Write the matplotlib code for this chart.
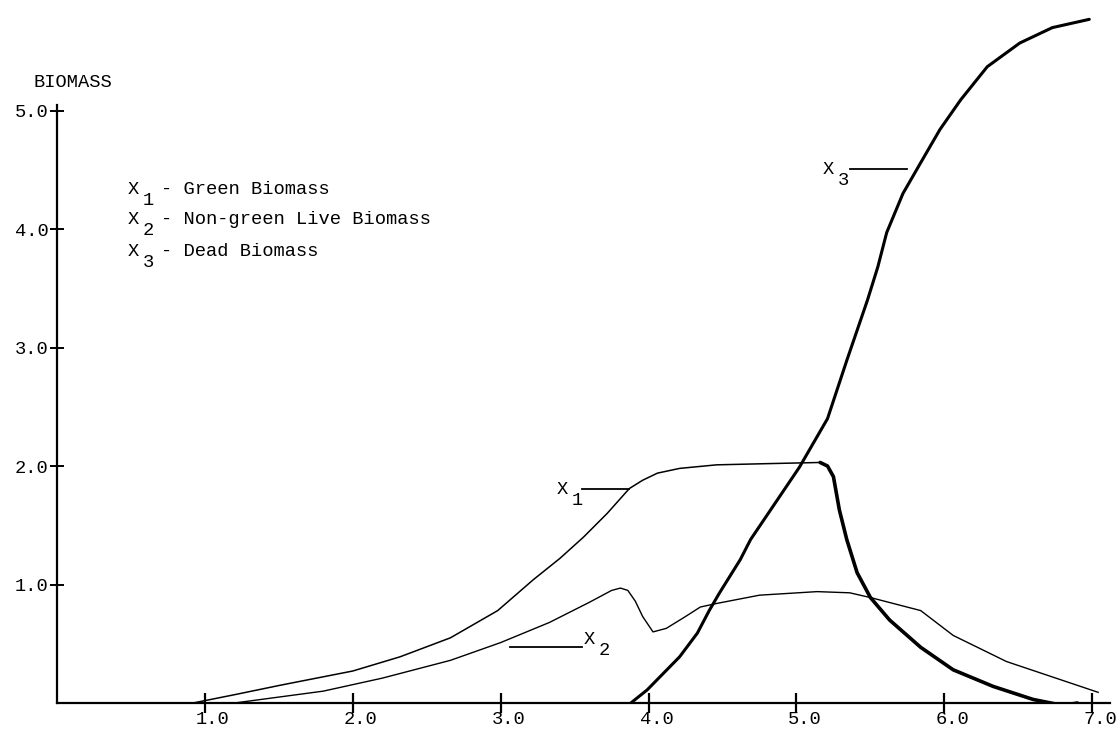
import numpy as np
import matplotlib.pyplot as plt
import matplotlib.transforms as mtransforms

#--------------------DATA------------------------#
# X1 - green biomass
x1_t = [0.0, 0.92, 1.20, 1.51, 2.00, 2.32, 2.66, 2.98, 3.22, 3.40, 3.56, 3.72, 3.87, 3.96,
        4.06, 4.21, 4.46, 4.80, 5.16, 5.21, 5.25, 5.29, 5.34, 5.41, 5.50, 5.63, 5.84,
        6.06, 6.33, 6.60, 6.80, 6.90]
x1_b = [0.0, 0.0, 0.07, 0.15, 0.27, 0.39, 0.55, 0.78, 1.04, 1.22, 1.40, 1.60, 1.81, 1.88,
        1.94, 1.98, 2.01, 2.02, 2.03, 2.00, 1.91, 1.63, 1.38, 1.10, 0.89, 0.70, 0.47,
        0.28, 0.14, 0.03, -0.02, 0.0]

# X2 - non-green live biomass
x2_t = [0.0, 1.20, 1.50, 1.80, 2.20, 2.66, 3.00, 3.33, 3.60, 3.75, 3.81, 3.86, 3.91, 3.96,
        4.03, 4.12, 4.25, 4.35, 4.46, 4.75, 5.14, 5.36, 5.50, 5.84, 6.06, 6.42, 6.73,
        7.04]
x2_b = [0.0, 0.0, 0.05, 0.10, 0.21, 0.36, 0.51, 0.68, 0.85, 0.95, 0.97, 0.95, 0.86, 0.73,
        0.60, 0.63, 0.73, 0.81, 0.84, 0.91, 0.94, 0.93, 0.89, 0.78, 0.57, 0.35, 0.22,
        0.09]

# X3 - dead biomass
x3_t = [3.88, 3.99, 4.10, 4.21, 4.33, 4.41, 4.48, 4.62, 4.69, 5.02, 5.21, 5.34, 5.48,
        5.55, 5.61, 5.72, 5.84, 5.97, 6.11, 6.29, 6.51, 6.73, 6.98]
x3_b = [0.0, 0.11, 0.25, 0.39, 0.59, 0.78, 0.93, 1.21, 1.38, 1.99, 2.40, 2.89, 3.40,
        3.68, 3.97, 4.30, 4.56, 4.84, 5.09, 5.37, 5.57, 5.70, 5.77]

x_ticks = [1, 2, 3, 4, 5, 6, 7]
y_ticks = [1, 2, 3, 4, 5]

legend_rows = [("1", "- Green Biomass"),
               ("2", "- Non-green Live Biomass"),
               ("3", "- Dead Biomass")]

FONT = "Liberation Mono"
FS = 13.5

#--------------------FUNCTIONS------------------------#
def x_label(ax, x, y, sub):
    # typewriter style "X" with half-line-down subscript
    ax.text(x, y, "X", family=FONT, fontsize=FS, ha="left", va="center")
    tr = mtransforms.offset_copy(ax.transData, fig=ax.figure, x=15, y=-11, units="dots")
    ax.text(x, y, sub, family=FONT, fontsize=FS, ha="left", va="center", transform=tr)

#---------------------------------PLOTTING----------------------#
fig = plt.figure(figsize=(11.2, 7.3), dpi=100)
ax = fig.add_axes([57 / 1120, 27 / 730, 1053 / 1120, 705 / 730])

t1 = np.array(x1_t)
b1 = np.array(x1_b)
ax.plot(t1, b1, color="black", lw=1.1, solid_joinstyle="round")
drop = t1 >= 5.16
ax.plot(t1[drop], b1[drop], color="black", lw=2.6, solid_capstyle="round",
        solid_joinstyle="round")
ax.plot(x2_t, x2_b, color="black", lw=1.0, solid_joinstyle="round")
ax.plot(x3_t, x3_b, color="black", lw=2.2, solid_capstyle="round", solid_joinstyle="round")

# pointer lines with labels
ax.plot([3.55, 3.87], [1.81, 1.81], color="black", lw=1.3)
x_label(ax, 3.38, 1.80, "1")
ax.plot([3.06, 3.55], [0.47, 0.47], color="black", lw=1.3)
x_label(ax, 3.56, 0.54, "2")
ax.plot([5.36, 5.75], [4.51, 4.51], color="black", lw=1.3)
x_label(ax, 5.18, 4.50, "3")

# key in the upper left
rows_y = [4.33, 4.08, 3.81]
for (s, txt), ry in zip(legend_rows, rows_y):
    x_label(ax, 0.48, ry, s)
    ax.text(0.70, ry, txt, family=FONT, fontsize=FS, ha="left", va="center")

ax.text(-0.162, 5.24, "BIOMASS", family=FONT, fontsize=FS, ha="left", va="center",
        clip_on=False)

ax.set_xlim(0, 7.12)
ax.set_ylim(0, 5.95)
for s in ["top", "right"]:
    ax.spines[s].set_visible(False)
ax.spines["left"].set_bounds(0, 5.05)
ax.spines["left"].set_linewidth(1.6)
ax.spines["bottom"].set_linewidth(1.6)

ax.set_xticks(x_ticks)
ax.set_xticklabels([f"{v:.1f}" for v in x_ticks], family=FONT, fontsize=FS)
ax.set_yticks(y_ticks)
ax.set_yticklabels([f"{v:.1f}" for v in y_ticks], family=FONT, fontsize=FS)
ax.tick_params(axis="x", direction="inout", length=14, width=1.6, pad=-1)
ax.tick_params(axis="y", direction="inout", length=10, width=1.4, pad=1)

# x labels sit a little to the right of their tick, as on the plotter output
shift = mtransforms.ScaledTranslation(0.08, 0, fig.dpi_scale_trans)
for lab in ax.get_xticklabels():
    lab.set_transform(lab.get_transform() + shift)

plt.savefig("out.png", dpi=100)
